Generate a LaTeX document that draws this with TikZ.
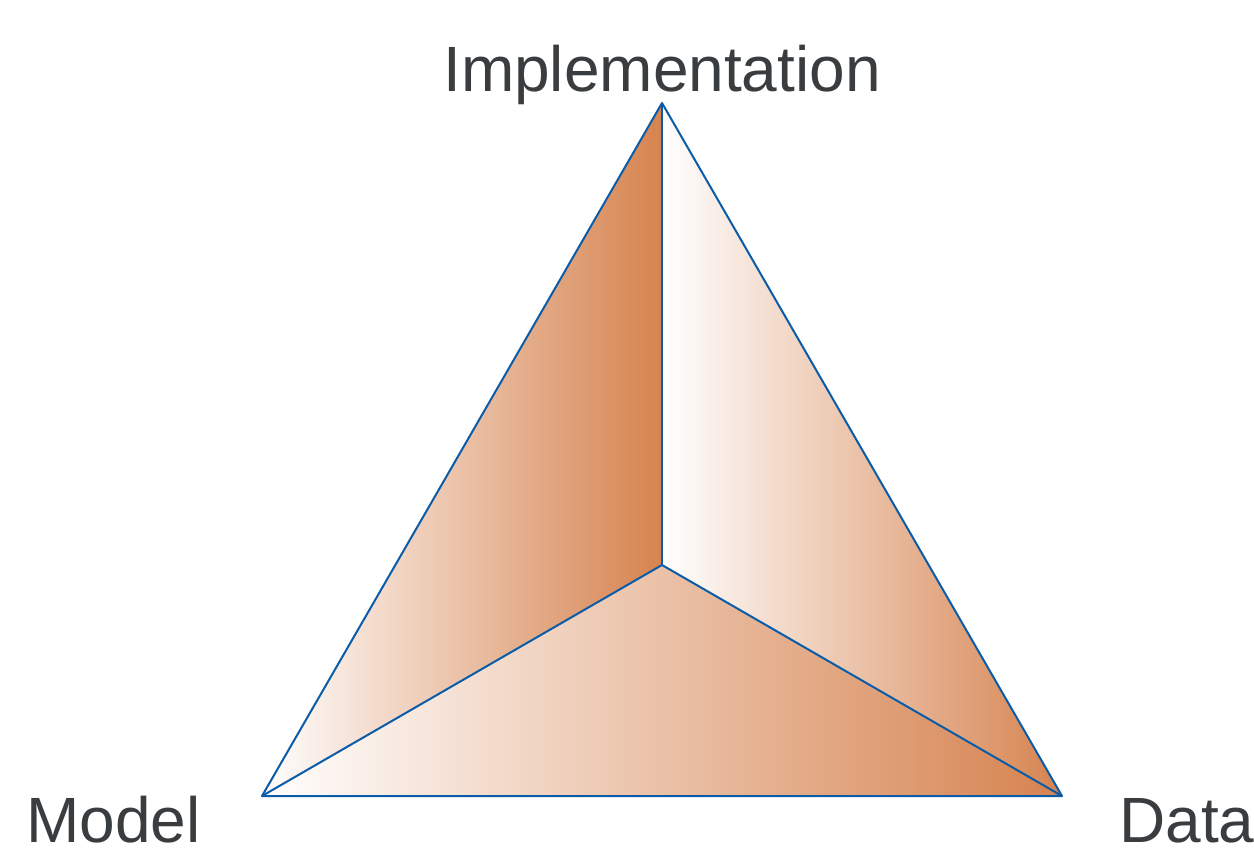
\documentclass[tikz,border=0pt]{standalone}
\usepackage{fontspec}
\setmainfont{Liberation Sans}
\definecolor{edgeblue}{HTML}{0A5CA8}
\definecolor{rust}{HTML}{D6834F}
\definecolor{labelgray}{HTML}{3A3D3F}
\begin{document}
\begin{tikzpicture}[x=0.5pt,y=-0.5pt,
  facet/.style={left color=white,right color=rust},
  edge/.style={draw=edgeblue,line width=1pt,line join=round},
  vlabel/.style={text=labelgray,font=\fontsize{32}{38}\selectfont,inner sep=0pt}]
  \useasboundingbox (0,0) rectangle (1254,855);
  % corners of the triangle and its centre
  \coordinate (T) at (662,103);
  \coordinate (L) at (262,796);
  \coordinate (R) at (1062,796);
  \coordinate (C) at (662,565);
  % three shaded facets
  \shade[facet] (T) -- (L) -- (C) -- cycle;
  \shade[facet] (T) -- (C) -- (R) -- cycle;
  \shade[facet] (L) -- (R) -- (C) -- cycle;
  % outline and inner spokes
  \draw[edge] (T) -- (L) -- (R) -- cycle;
  \draw[edge] (C) -- (T);
  \draw[edge] (C) -- (L);
  \draw[edge] (C) -- (R);
  % vertex labels
  \node[vlabel,anchor=base] (impl) at (662,92) {Implementation};
  \node[vlabel,anchor=base west] (model) at (26,842) {Model};
  \node[vlabel,anchor=base west] (data) at (1119,842) {Data};
\end{tikzpicture}
\end{document}
